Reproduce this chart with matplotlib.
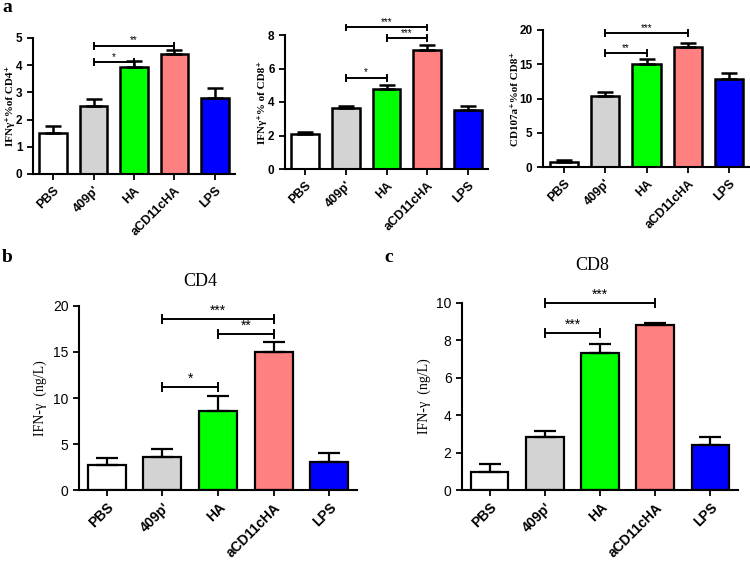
import numpy as np
import matplotlib
matplotlib.use("Agg")
import matplotlib.pyplot as plt

plt.rcParams['font.family'] = ['Liberation Sans', 'DejaVu Sans']

# groups and colours
groups = ['PBS', "409p'", 'HA', 'aCD11cHA', 'LPS']
colors = ['#ffffff', '#d3d3d3', '#00ff00', '#ff8080', '#0000ff']

# panel a (flow cytometry, %)
a1_vals = [1.5, 2.5, 3.95, 4.4, 2.8]
a1_err = [0.28, 0.25, 0.2, 0.15, 0.38]
a2_vals = [2.1, 3.65, 4.8, 7.1, 3.5]
a2_err = [0.12, 0.1, 0.22, 0.3, 0.25]
a3_vals = [0.8, 10.4, 15.1, 17.5, 12.8]
a3_err = [0.2, 0.5, 0.6, 0.6, 0.9]

# panels b, c (ELISA, ng/L)
b_vals = [2.7, 3.6, 8.6, 15.0, 3.0]
b_err = [0.75, 0.9, 1.6, 1.1, 1.0]
c_vals = [0.95, 2.85, 7.3, 8.8, 2.4]
c_err = [0.45, 0.3, 0.5, 0.15, 0.42]

# significance brackets: (from, to, height, label)
a1_sig = [(1, 2, 4.1, '*'), (1, 3, 4.7, '**')]
a2_sig = [(1, 2, 5.45, '*'), (2, 3, 7.8, '***'), (1, 3, 8.45, '***')]
a3_sig = [(1, 2, 16.6, '**'), (1, 3, 19.5, '***')]
b_sig = [(1, 2, 11.2, '*'), (2, 3, 17.0, '**'), (1, 3, 18.6, '***')]
c_sig = [(1, 2, 8.4, '***'), (1, 3, 10.0, '***')]

W, H = 750, 562
fig = plt.figure(figsize=(W / 100, H / 100), dpi=100)
serif = ['Liberation Serif', 'DejaVu Serif']


def add_ax(l, r, t, b):
    return fig.add_axes([l / W, 1 - b / H, (r - l) / W, (b - t) / H])


def bar_panel(ax, vals, err, sig, ymax, yticks, ylabel, small=True, lab_off=None):
    x = np.arange(len(groups))
    lw = 1.8 if small else 1.6
    ax.bar(x, vals, width=0.68, color=colors, edgecolor='black', linewidth=lw, zorder=2)
    ax.errorbar(x, vals, yerr=[np.zeros(len(vals)), err], fmt='none', ecolor='black',
                elinewidth=lw, capsize=6 if small else 8, capthick=lw, zorder=3)
    ax.set_xlim(-0.5, 4.5)
    ax.set_ylim(0, ymax)
    ax.set_yticks(yticks)
    ax.set_xticks(x)
    ax.set_xticklabels(groups, rotation=45, ha='right', rotation_mode='anchor',
                       fontweight='bold', fontsize=9 if small else 10)
    ax.tick_params(axis='y', labelsize=8.5 if small else 10, width=1.3, length=4)
    ax.tick_params(axis='x', width=1.3, length=4)
    if small:
        for t in ax.get_yticklabels():
            t.set_fontweight('bold')
    for s in ['top', 'right']:
        ax.spines[s].set_visible(False)
    for s in ['left', 'bottom']:
        ax.spines[s].set_linewidth(1.5)
    ax.set_ylabel(ylabel, family=serif,
                  fontweight='bold' if small else 'normal', fontsize=8 if small else 10)
    if lab_off is not None:
        # offset of the label's right edge from the y axis, in pixels
        ax.yaxis.set_label_coords(-lab_off / (ax.get_position().width * W), 0.5)
    tick = ymax * 0.022
    for i, j, h, lab in sig:
        ax.plot([i, j], [h, h], color='black', lw=1.4, clip_on=False, zorder=4)
        for k in (i, j):
            ax.plot([k, k], [h - tick, h + tick], color='black', lw=1.4,
                    clip_on=False, zorder=4)
        ax.text((i + j) / 2, h + tick * 0.2, lab, ha='center', va='bottom',
                fontsize=7 if small else 10, clip_on=False)


ax1 = add_ax(33, 235, 38, 174)
bar_panel(ax1, a1_vals, a1_err, a1_sig, 5, [0, 1, 2, 3, 4, 5], 'IFNγ⁺%of CD4⁺', lab_off=18)
ax2 = add_ax(285, 488, 35, 169)
bar_panel(ax2, a2_vals, a2_err, a2_sig, 8, [0, 2, 4, 6, 8], 'IFNγ⁺% of CD8⁺', lab_off=18)
ax3 = add_ax(543, 750, 30, 167)
bar_panel(ax3, a3_vals, a3_err, a3_sig, 20, [0, 5, 10, 15, 20], 'CD107a⁺%of CD8⁺', lab_off=23)
ax4 = add_ax(79, 357, 306, 490)
bar_panel(ax4, b_vals, b_err, b_sig, 20, [0, 5, 10, 15, 20], 'IFN-γ  (ng/L)', small=False)
ax5 = add_ax(462, 738, 303, 490)
bar_panel(ax5, c_vals, c_err, c_sig, 10, [0, 2, 4, 6, 8, 10], 'IFN-γ  (ng/L)', small=False)

fig.text(2 / W, 1 - 8 / H, 'a', family=serif, fontweight='bold', fontsize=14, va='center')
fig.text(2 / W, 1 - 258 / H, 'b', family=serif, fontweight='bold', fontsize=14, va='center')
fig.text(384 / W, 1 - 258 / H, 'c', family=serif, fontweight='bold', fontsize=14, va='center')
fig.text(200 / W, 1 - 282 / H, 'CD4', family=serif, fontsize=13, ha='center', va='center')
fig.text(592 / W, 1 - 266 / H, 'CD8', family=serif, fontsize=13, ha='center', va='center')

fig.savefig('out.png', dpi=100)
